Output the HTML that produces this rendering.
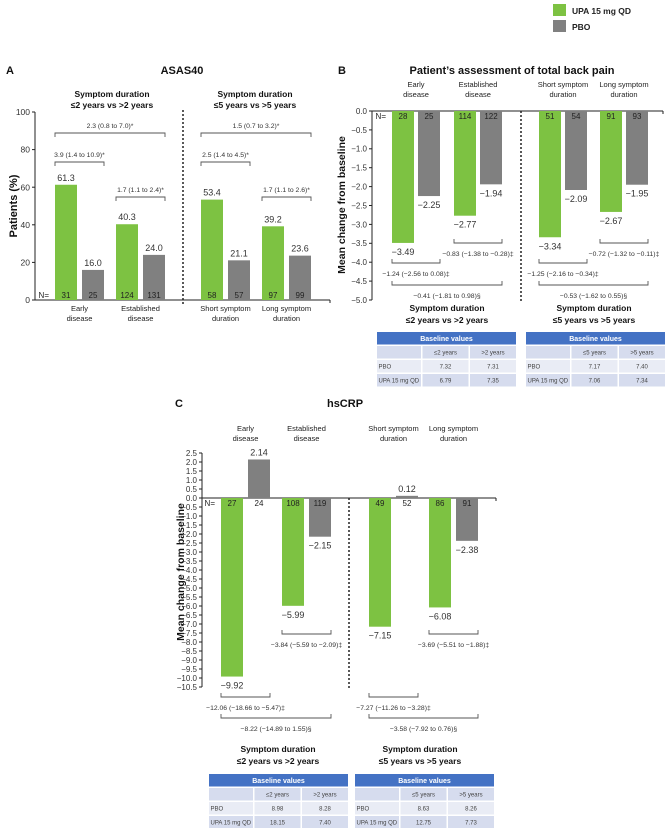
<!DOCTYPE html>
<html><head><meta charset="utf-8">
<style>
html,body{margin:0;padding:0;background:#fff;}
svg{display:block;font-family:"Liberation Sans",sans-serif;}
</style></head>
<body>
<svg id="fig" width="668" height="828" viewBox="0 0 668 828" xmlns="http://www.w3.org/2000/svg"></svg>
<script>
// ---------- DATA ----------
const catLabelsA = [["Early","disease"],["Established","disease"],["Short symptom","duration"],["Long symptom","duration"]];
const asasUpa = [61.3, 40.3, 53.4, 39.2];
const asasPbo = [16.0, 24.0, 21.1, 23.6];
const asasNUpa = [31, 124, 58, 97];
const asasNPbo = [25, 131, 57, 99];
const asasTicks = [0, 20, 40, 60, 80, 100];
const asasBrackets = ["3.9 (1.4 to 10.9)*", "1.7 (1.1 to 2.4)*", "2.3 (0.8 to 7.0)*", "2.5 (1.4 to 4.5)*", "1.7 (1.1 to 2.6)*", "1.5 (0.7 to 3.2)*"];

const painUpa = [-3.49, -2.77, -3.34, -2.67];
const painPbo = [-2.25, -1.94, -2.09, -1.95];
const painNUpa = [28, 114, 51, 91];
const painNPbo = [25, 122, 54, 93];
const painTicks = [0, -0.5, -1, -1.5, -2, -2.5, -3, -3.5, -4, -4.5, -5];
const painBrackets = ["\u22121.24 (\u22122.56 to 0.08)\u2021", "\u22120.83 (\u22121.38 to \u22120.28)\u2021", "\u22120.41 (\u22121.81 to 0.98)\u00a7", "\u22121.25 (\u22122.16 to \u22120.34)\u2021", "\u22120.72 (\u22121.32 to \u22120.11)\u2021", "\u22120.53 (\u22121.62 to 0.55)\u00a7"];
const painTable1 = [["PBO","7.32","7.31"],["UPA 15 mg QD","6.79","7.35"]];
const painTable2 = [["PBO","7.17","7.40"],["UPA 15 mg QD","7.06","7.34"]];

const crpUpa = [-9.92, -5.99, -7.15, -6.08];
const crpPbo = [2.14, -2.15, 0.12, -2.38];
const crpNUpa = [27, 108, 49, 86];
const crpNPbo = [24, 119, 52, 91];
const crpTicks = [2.5,2,1.5,1,0.5,0,-0.5,-1,-1.5,-2,-2.5,-3,-3.5,-4,-4.5,-5,-5.5,-6,-6.5,-7,-7.5,-8,-8.5,-9,-9.5,-10,-10.5];
const crpBrackets = ["\u221212.06 (\u221218.66 to \u22125.47)\u2021", "\u22123.84 (\u22125.59 to \u22122.09)\u2021", "\u22128.22 (\u221214.89 to 1.55)\u00a7", "\u22127.27 (\u221211.26 to \u22123.28)\u2021", "\u22123.69 (\u22125.51 to \u22121.88)\u2021", "\u22123.58 (\u22127.92 to 0.76)\u00a7"];
const crpTable1 = [["PBO","8.98","8.28"],["UPA 15 mg QD","18.15","7.40"]];
const crpTable2 = [["PBO","8.63","8.26"],["UPA 15 mg QD","12.75","7.73"]];

// ---------- HELPERS ----------
const NS = "http://www.w3.org/2000/svg";
const svg = document.getElementById("fig");
const GREEN = "#7dc242", GREY = "#808080", TXT = "#333";
function mk(tag, at, parent) {
  const e = document.createElementNS(NS, tag);
  for (const k in at) e.setAttribute(k, at[k]);
  (parent || svg).appendChild(e);
  return e;
}
function txt(s, x, y, size, opt) {
  opt = opt || {};
  const e = mk("text", {x: x, y: y, "font-size": size, fill: opt.fill || TXT, "text-anchor": opt.anchor || "middle", "font-weight": opt.bold ? "bold" : "normal"});
  if (opt.rot) e.setAttribute("transform", "rotate(-90 " + x + " " + y + ")");
  e.textContent = s;
  return e;
}
function fmt(v, d) { const s = Math.abs(v).toFixed(d); return v < 0 ? "\u2212" + s : s; }

function panel(cfg) {
  const g = mk("g", {});
  
  
  const y = v => cfg.y0 - v * cfg.k;
  const ax = mk("line", {x1: cfg.ax, y1: y(cfg.ticks[0]), x2: cfg.ax, y2: y(cfg.ticks[cfg.ticks.length-1]), stroke: "#222", "stroke-width": 1}, g);
  
  
  cfg.ticks.forEach(t => {
    mk("line", {x1: cfg.ax - 3, x2: cfg.ax, y1: y(t), y2: y(t), stroke: "#222"}, g);
    const l = txt(fmt(t, cfg.td), cfg.ax - 5, y(t) + cfg.tfs * 0.36, cfg.tfs, {anchor: "end"});
    
    
  });
  const xa = mk("line", {x1: cfg.ax, x2: cfg.xEnd, y1: y(0), y2: y(0), stroke: "#222", "stroke-width": 1}, g);
  
  
  mk("line", {x1: cfg.xEnd, x2: cfg.xEnd, y1: y(0), y2: y(0) + 3, stroke: "#222"}, g);
  const dv = mk("line", {x1: cfg.div, x2: cfg.div, y1: cfg.divY[0], y2: cfg.divY[1], stroke: "#222", "stroke-width": 1.5, "stroke-dasharray": "2,2"}, g);
  
  
  const W = 22;
  cfg.upa.forEach((v, i) => {
    [[v, cfg.gx[i], GREEN, "upa", cfg.nUpa[i]], [cfg.pbo[i], cfg.gx[i] + cfg.off, GREY, "pbo", cfg.nPbo[i]]].forEach(b => {
      const val = b[0], x = b[1];
      const top = Math.min(y(val), y(0)), h = Math.abs(y(val) - y(0));
      const r = mk("rect", {x: x, y: top, width: W, height: Math.max(h, 0.8), fill: b[2]}, g);
      
      
      const ly = val >= 0 ? y(val) - 4 : y(val) + 12;
      const lt = txt(fmt(val, cfg.vd), x + W / 2, ly, cfg.vfs);
      
      
      const nt = txt(String(b[4]), x + W / 2, cfg.nY, 8, {fill: "#222"});
      
      
    });
  });
  txt("N=", cfg.gx[0] - 6, cfg.nY, 8, {anchor: "end", fill: "#222"});
  cfg.gx.forEach((x, i) => {
    const c = x + (cfg.off + W) / 2;
    catLabelsA[i].forEach((s, j) => {
      const t = txt(s, c, cfg.catY + j * 10, 7.5, {fill: "#222"});
      
      
    });
  });
  cfg.br.forEach((b, i) => {
    const x1 = cfg.gx[b[0]], x2 = cfg.gx[b[1]] + cfg.off + W, yy = b[2], d = cfg.brDir;
    const p = mk("path", {d: `M${x1},${yy + d * 4}V${yy}H${x2}V${yy + d * 4}`, fill: "none", stroke: "#555", "stroke-width": 0.9}, g);
    
    
    const t = txt(cfg.brText[i], (x1 + x2) / 2, b[3], 6.8);
    
    
  });
}

function table(x, y, rows, cols, name) {
  const g = mk("g", {});
  
  
  const cw = [44, 46, 46], rh = 12.5, gap = 1.5, W = cw[0] + cw[1] + cw[2] + 2 * gap;
  mk("rect", {x: x, y: y, width: W, height: rh, fill: "#4472c4"}, g);
  txt("Baseline values", x + W / 2, y + 9, 7, {fill: "#fff", bold: true});
  const all = [["", cols[0], cols[1]]].concat(rows);
  all.forEach((r, ri) => {
    const ry = y + (rh + gap) * (ri + 1);
    let cx = x;
    r.forEach((c, ci) => {
      mk("rect", {x: cx, y: ry, width: cw[ci], height: rh, fill: ri % 2 === 0 ? "#d6dcee" : "#e9ecf5"}, g);
      txt(c, ci === 0 ? cx + 1.5 : cx + cw[ci] / 2, ry + 8.5, 6, {anchor: ci === 0 ? "start" : "middle", fill: "#444"});
      cx += cw[ci] + gap;
    });
  });
}

// ---------- LEGEND ----------
const lg = mk("g", {});


mk("rect", {x: 553, y: 4, width: 13, height: 12, fill: GREEN}, lg);
txt("UPA 15 mg QD", 572, 14, 8.5, {anchor: "start", fill: "#222", bold: true});
mk("rect", {x: 553, y: 20, width: 13, height: 12, fill: GREY}, lg);
txt("PBO", 572, 30, 8.5, {anchor: "start", fill: "#222", bold: true});

// ---------- PANEL A ----------
txt("A", 6, 74, 11, {anchor: "start", bold: true, fill: "#111"});
txt("ASAS40", 182, 74, 11, {bold: true, fill: "#111"});
txt("Symptom duration", 112, 97, 8.5, {bold: true, fill: "#111"});
txt("\u22642 years vs >2 years", 112, 108, 8.5, {bold: true, fill: "#111"});
txt("Symptom duration", 255, 97, 8.5, {bold: true, fill: "#111"});
txt("\u22645 years vs >5 years", 255, 108, 8.5, {bold: true, fill: "#111"});
txt("Patients (%)", 17, 206, 11, {bold: true, rot: true, fill: "#111"});
panel({name: "asas40-chart", ax: 35, y0: 300, k: 1.88, ticks: asasTicks.slice().reverse(), td: 0, tfs: 8.5,
  xEnd: 330, div: 183, divY: [110, 305], upa: asasUpa, pbo: asasPbo, nUpa: asasNUpa, nPbo: asasNPbo,
  gx: [55, 116, 201, 262], off: 27, vd: 1, vfs: 9, nY: 298, catY: 311,
  br: [[0, 0, 162, 157], [1, 1, 197, 192], [0, 1, 133, 128], [2, 2, 162, 157], [3, 3, 197, 192], [2, 3, 133, 128]],
  brText: asasBrackets, brDir: 1});

// ---------- PANEL B ----------
txt("B", 338, 74, 11, {anchor: "start", bold: true, fill: "#111"});
txt("Patient\u2019s assessment of total back pain", 512, 74, 11, {bold: true, fill: "#111"});
txt("Mean change from baseline", 345, 205, 10.5, {bold: true, rot: true, fill: "#111"});
panel({name: "back-pain-chart", ax: 372, y0: 111, k: 37.8, ticks: painTicks, td: 1, tfs: 8,
  xEnd: 663, div: 521, divY: [111, 302], upa: painUpa, pbo: painPbo, nUpa: painNUpa, nPbo: painNPbo,
  gx: [392, 454, 539, 600], off: 26, vd: 2, vfs: 9, nY: 119, catY: 87,
  br: [[0, 0, 263, 276], [1, 1, 243, 256], [0, 1, 285, 298], [2, 2, 263, 276], [3, 3, 243, 256], [2, 3, 285, 298]],
  brText: painBrackets, brDir: -1});
txt("Symptom duration", 447, 311, 8.5, {bold: true, fill: "#111"});
txt("\u22642 years vs >2 years", 447, 323, 8.5, {bold: true, fill: "#111"});
txt("Symptom duration", 594, 311, 8.5, {bold: true, fill: "#111"});
txt("\u22645 years vs >5 years", 594, 323, 8.5, {bold: true, fill: "#111"});
table(377, 332, painTable1, ["\u22642 years", ">2 years"], "back-pain-baseline-table-2y");
table(526, 332, painTable2, ["\u22645 years", ">5 years"], "back-pain-baseline-table-5y");

// ---------- PANEL C ----------
txt("C", 175, 407, 11, {anchor: "start", bold: true, fill: "#111"});
txt("hsCRP", 345, 407, 11, {bold: true, fill: "#111"});
txt("Mean change from baseline", 184, 572, 10.5, {bold: true, rot: true, fill: "#111"});
panel({name: "hscrp-chart", ax: 202, y0: 498, k: 18, ticks: crpTicks, td: 1, tfs: 8,
  xEnd: 496, div: 349, divY: [498, 690], upa: crpUpa, pbo: crpPbo, nUpa: crpNUpa, nPbo: crpNPbo,
  gx: [221, 282, 369, 429], off: 27, vd: 2, vfs: 9, nY: 506, catY: 431,
  br: [[0, 0, 697, 710], [1, 1, 634, 647], [0, 1, 718, 731], [2, 2, 697, 710], [3, 3, 634, 647], [2, 3, 718, 731]],
  brText: crpBrackets, brDir: -1});
txt("Symptom duration", 278, 752, 8.5, {bold: true, fill: "#111"});
txt("\u22642 years vs >2 years", 278, 764, 8.5, {bold: true, fill: "#111"});
txt("Symptom duration", 420, 752, 8.5, {bold: true, fill: "#111"});
txt("\u22645 years vs >5 years", 420, 764, 8.5, {bold: true, fill: "#111"});
table(209, 774, crpTable1, ["\u22642 years", ">2 years"], "hscrp-baseline-table-2y");
table(355, 774, crpTable2, ["\u22645 years", ">5 years"], "hscrp-baseline-table-5y");
</script>
</body></html>
